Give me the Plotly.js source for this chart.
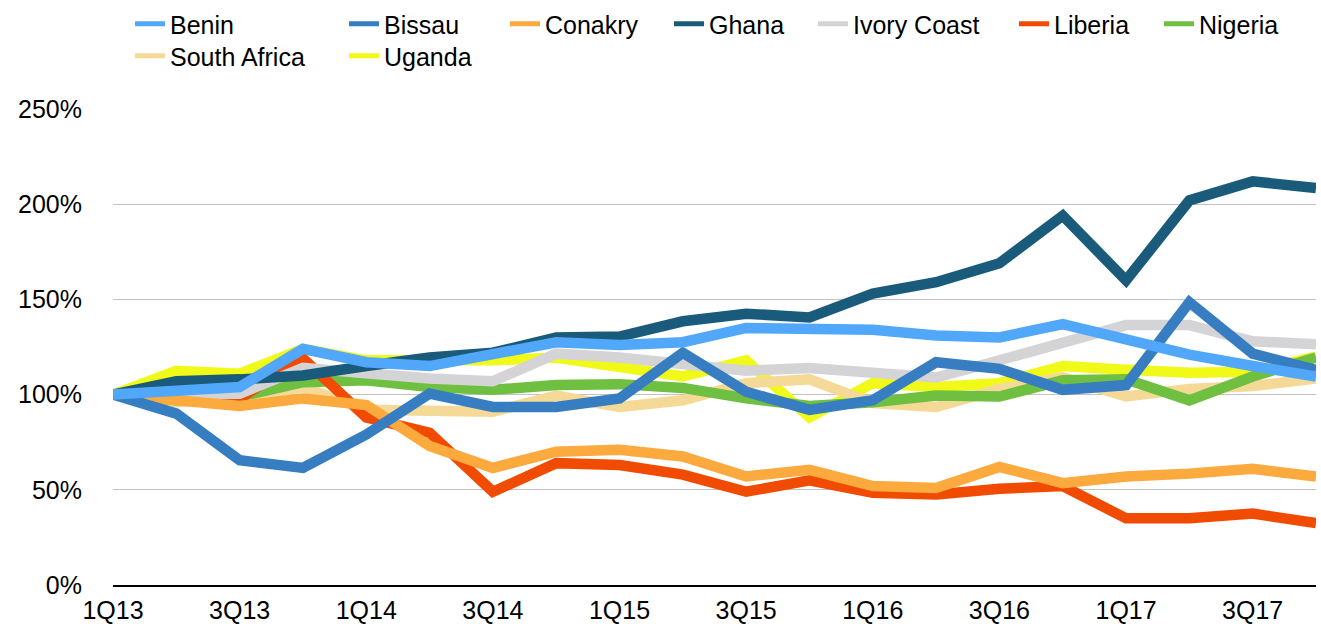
<!DOCTYPE html>
<html>
<head>
<meta charset="utf-8">
<script src="https://cdn.plot.ly/plotly-3.0.1.min.js"></script>
<style>
html,body{margin:0;padding:0;background:#fff;}
#chart{width:1321px;height:628px;}
#chart .legendlines path{stroke-width:5px !important;}
</style>
</head>
<body>
<div id="chart"></div>
<script>
const quarters = ['1Q13','2Q13','3Q13','4Q13','1Q14','2Q14','3Q14','4Q14','1Q15','2Q15','3Q15','4Q15','1Q16','2Q16','3Q16','4Q16','1Q17','2Q17','3Q17','4Q17'];
const tickLabels = ['1Q13','3Q13','1Q14','3Q14','1Q15','3Q15','1Q16','3Q16','1Q17','3Q17'];
const yTicks = [0, 50, 100, 150, 200, 250];

const benin       = [100, 102, 104, 124, 117, 115, 121, 127.5, 126, 127.5, 135, 134, 134, 131, 130, 137, 129, 121, 115, 109.5];
const bissau      = [100, 90, 65.5, 61.5, 79, 100.5, 93.5, 93.5, 98, 122, 101.5, 92, 97, 117, 113.5, 102.5, 105, 148.5, 121.5, 113];
const conakry     = [100, 97, 94, 98, 94.5, 73, 61.5, 70, 71, 67.5, 57, 60.5, 52, 51, 62, 53.5, 57, 58.5, 61, 57];
const ghana       = [100, 107, 108, 110, 115, 119.5, 122, 130, 130.5, 138.5, 142.5, 140.5, 153, 159, 169, 194, 160, 202, 212, 208.5];
const ivoryCoast  = [100, 100, 100.5, 114, 111, 108.5, 107, 121.5, 119.5, 115.5, 112.5, 114, 112, 109, 118, 127.5, 136.5, 136.5, 128, 126.5];
const liberia     = [100, 99, 98, 119, 88, 80, 49, 64, 63, 58, 49, 55, 48.5, 47.5, 50.5, 52, 35, 35, 37.5, 32.5];
const nigeria     = [100, 97, 99, 106.5, 107.5, 104, 102.5, 105, 105.5, 103.5, 98, 94, 96, 99.5, 99, 107.5, 108, 97, 109.5, 119.5];
const southAfrica = [100, 96, 98, 104, 92, 91, 91, 99.5, 93.5, 97, 106, 108, 95.5, 93.5, 103, 109, 99, 103, 104.5, 108.5];
const uganda      = [100, 112.5, 111, 124, 118, 117.5, 118, 119.5, 114.5, 109.5, 118, 88, 106, 104, 106, 115, 113, 111.5, 112, 120];

const seriesNames = ['Benin','Bissau','Conakry','Ghana','Ivory Coast','Liberia','Nigeria','South Africa','Uganda'];
const seriesData  = [benin, bissau, conakry, ghana, ivoryCoast, liberia, nigeria, southAfrica, uganda];
const seriesColors = ['#51a7f9','#367dc1','#fca93e','#1a5a7a','#d4d3d6','#f04b00','#6fbf40','#f5d996','#f0f918'];

// legend placement (text left x, row center y in px)
const legendPos = [[170,24],[384,24],[545,24],[709,24],[853,24],[1054,24],[1199,24],[170,56],[384,56]];
const W = 1321, H = 628;

const traces = [];
// first series drawn on top: add in reverse order
for (let i = seriesNames.length - 1; i >= 0; i--) {
  traces.push({
    type: 'scatter', mode: 'lines',
    name: seriesNames[i],
    x: quarters, y: seriesData[i],
    line: {color: seriesColors[i], width: 10.5},
    legend: i === 0 ? 'legend' : 'legend' + (i + 1),
    hoverinfo: 'x+y+name'
  });
}

const font = {family: 'Liberation Sans, Arial, Helvetica, sans-serif', size: 25, color: '#000'};
const layout = {
  width: W, height: H,
  paper_bgcolor: '#fff', plot_bgcolor: '#fff',
  margin: {l: 113, r: 5, t: 109, b: 43, autoexpand: false},
  font: font,
  showlegend: true,
  xaxis: {
    type: 'category', range: [0, 19],
    tickmode: 'array', tickvals: tickLabels, ticktext: tickLabels,
    showgrid: false, zeroline: false,
    showline: true, linecolor: '#000', linewidth: 2,
    ticks: '', ticklabelstandoff: 2,
    tickfont: font, fixedrange: true, automargin: false
  },
  yaxis: {
    range: [0, 250], tickmode: 'array', tickvals: yTicks,
    ticktext: yTicks.map(v => v + '%'),
    showgrid: true, gridcolor: '#c3c3c3', gridwidth: 1,
    zeroline: false, showline: false,
    ticks: '', ticklabelstandoff: 30,
    tickfont: font, fixedrange: true, automargin: false
  }
};
for (let i = 0; i < seriesNames.length; i++) {
  const key = i === 0 ? 'legend' : 'legend' + (i + 1);
  layout[key] = {
    xref: 'container', yref: 'container',
    x: (legendPos[i][0] - 40) / W, xanchor: 'left',
    y: 1 - legendPos[i][1] / H, yanchor: 'middle',
    orientation: 'v', bgcolor: 'rgba(0,0,0,0)', borderwidth: 0,
    font: font
  };
}

Plotly.newPlot('chart', traces, layout, {displayModeBar: false, staticPlot: true});
</script>
</body>
</html>
